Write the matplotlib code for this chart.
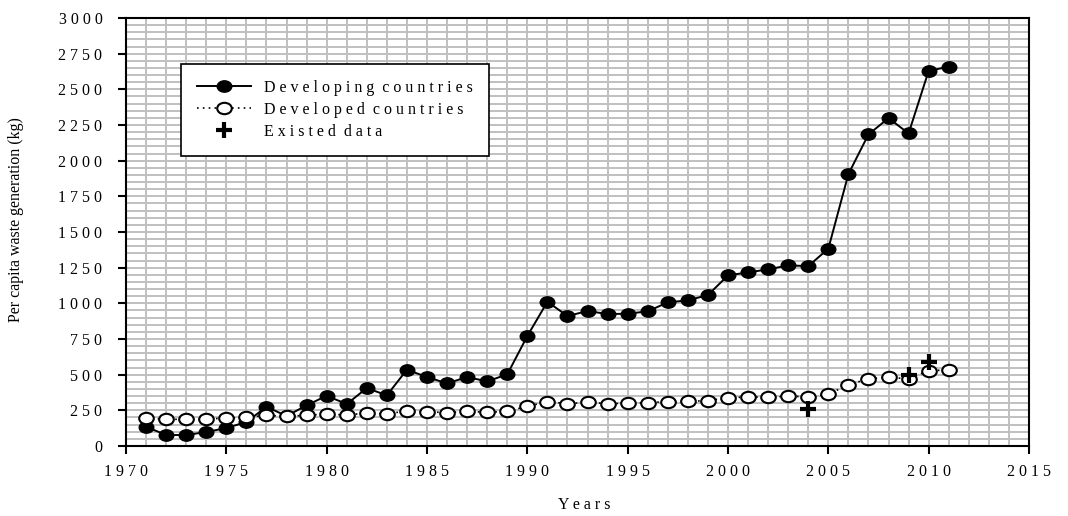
import numpy as np
import matplotlib.pyplot as plt
from matplotlib.path import Path
from matplotlib.transforms import Affine2D
from matplotlib.ticker import MultipleLocator, FuncFormatter

years = list(range(1971, 2012))

developing = [135, 77, 77, 98, 126, 168, 275, 210, 285, 352,
              294, 406, 355, 535, 483, 439, 483, 453, 502, 771,
              1011, 911, 946, 925, 927, 944, 1007, 1021, 1058, 1196,
              1217, 1238, 1266, 1261, 1383, 1906, 2184, 2298, 2191, 2630,
              2658]

developed = [196, 187, 187, 189, 196, 201, 215, 208, 215, 224,
             217, 231, 224, 247, 240, 234, 243, 236, 243, 278,
             311, 297, 306, 297, 299, 304, 311, 313, 318, 339,
             343, 343, 348, 346, 362, 430, 470, 483, 470, 528,
             533]

existed_years = [2004, 2009, 2010]
existed_vals = [259, 500, 587]

labels = ["Developing countries", "Developed countries", "Existed data"]


def spaced(s):
    # wide letter spacing like the original figure
    return "  ".join(" ".join(w) for w in s.split(" "))


serif = "Liberation Serif"
plt.rcParams["font.family"] = serif

# ellipse marker (wider than tall)
ellipse = Path.unit_circle().transformed(Affine2D().scale(1.0, 0.78))

fig = plt.figure(figsize=(10.68, 5.16), dpi=100)
ax = fig.add_axes([126 / 1068, 70 / 516, 903 / 1068, 428 / 516])

ax.plot(years, developing, color="black", lw=1.4, marker=ellipse,
        markersize=10.5, markerfacecolor="black", markeredgecolor="black",
        label=spaced(labels[0]), zorder=3)
ax.plot(years, developed, color="black", lw=1.2, ls=(0, (1, 2.5)), marker=ellipse,
        markersize=10.5, markerfacecolor="white", markeredgecolor="black",
        markeredgewidth=1.5, label=spaced(labels[1]), zorder=4)
ax.plot(existed_years, existed_vals, ls="none", marker="+", markersize=11,
        markeredgewidth=3, color="black", label=spaced(labels[2]), zorder=5)

ax.set_xlim(1970, 2015)
ax.set_ylim(0, 3000)
ax.xaxis.set_major_locator(MultipleLocator(5))
ax.xaxis.set_minor_locator(MultipleLocator(1))
ax.yaxis.set_major_locator(MultipleLocator(250))
ax.yaxis.set_minor_locator(MultipleLocator(50))

fmt = FuncFormatter(lambda v, p: " ".join(str(int(round(v)))))
ax.xaxis.set_major_formatter(fmt)
ax.yaxis.set_major_formatter(fmt)

ax.grid(which="both", color="#c0c0c0", lw=1.4, zorder=0)
ax.set_axisbelow(True)

ax.tick_params(which="major", direction="out", length=6, width=1.5,
               labelsize=11.5, color="black")
ax.tick_params(axis="y", which="major", pad=11)
ax.tick_params(axis="x", which="major", pad=7)
ax.tick_params(which="minor", length=0)

for sp in ax.spines.values():
    sp.set_linewidth(1.5)
    sp.set_color("black")

fig.text(584 / 1068, 1 - 505 / 516, spaced("Years"), ha="center", va="center",
         fontsize=11.5)
fig.text(16 / 1068, 1 - 220 / 516, "Per capita waste generation (kg)",
         rotation=90, ha="center", va="center", fontsize=11.5)

leg = ax.legend(loc="upper left", bbox_to_anchor=(0.061, 0.893),
                frameon=True, fancybox=False, edgecolor="black",
                fontsize=11.5, handlelength=3.4, labelspacing=0.38,
                borderpad=1.0, handletextpad=0.8, borderaxespad=0)
leg.get_frame().set_linewidth(1.2)
leg.get_frame().set_alpha(1)

fig.savefig("out.png", dpi=100)
